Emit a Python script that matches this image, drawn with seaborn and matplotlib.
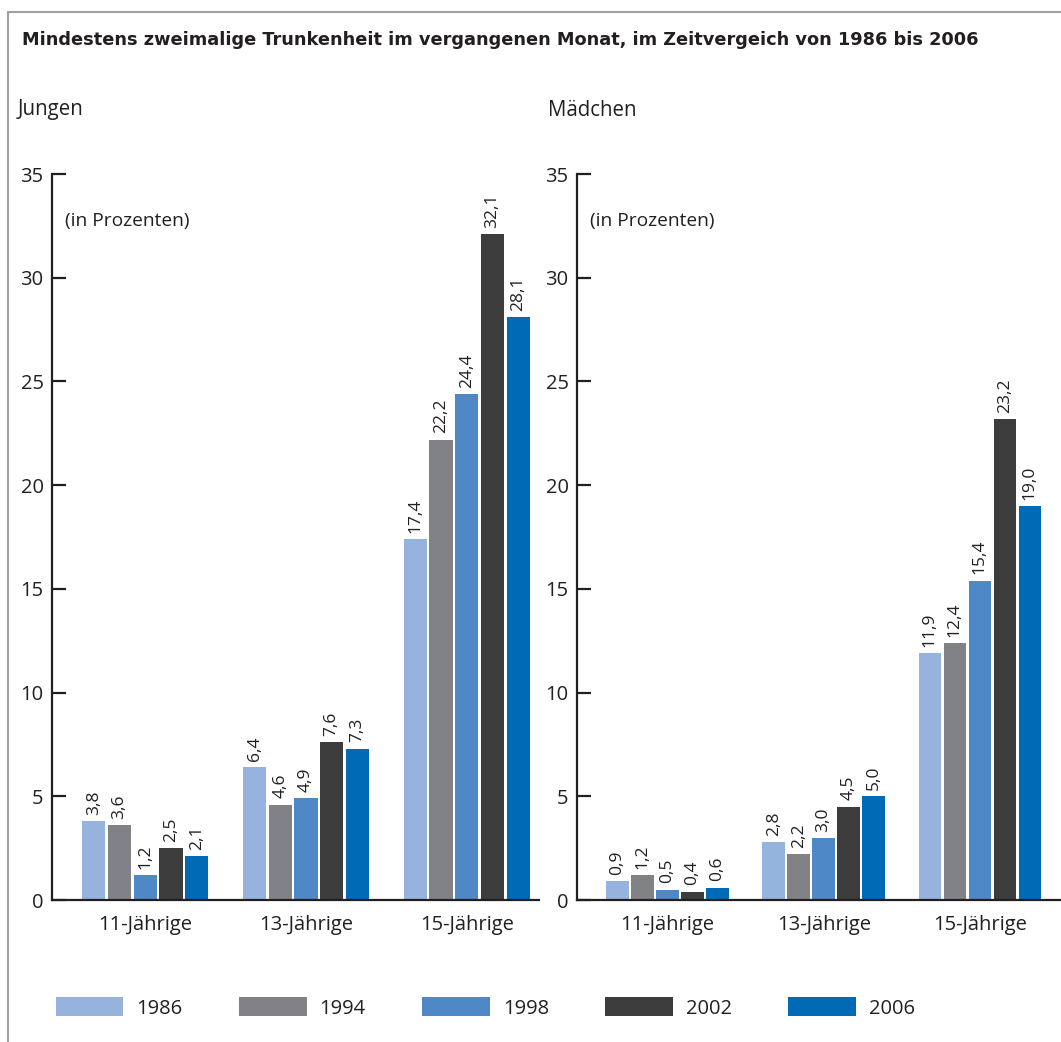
import matplotlib
matplotlib.use("Agg")
import matplotlib.pyplot as plt
import seaborn as sns
import pandas as pd
from matplotlib.patches import Patch
from matplotlib.lines import Line2D

categories = ["11-Jährige", "13-Jährige", "15-Jährige"]
years = ["1986", "1994", "1998", "2002", "2006"]
jungen = {
    "1986": [3.8, 6.4, 17.4],
    "1994": [3.6, 4.6, 22.2],
    "1998": [1.2, 4.9, 24.4],
    "2002": [2.5, 7.6, 32.1],
    "2006": [2.1, 7.3, 28.1],
}
maedchen = {
    "1986": [0.9, 2.8, 11.9],
    "1994": [1.2, 2.2, 12.4],
    "1998": [0.5, 3.0, 15.4],
    "2002": [0.4, 4.5, 23.2],
    "2006": [0.6, 5.0, 19.0],
}
colors = ["#95B3DC", "#808285", "#4F88C6", "#3C3C3C", "#006AB7"]
yticks = [0, 5, 10, 15, 20, 25, 30, 35]

sns.set_theme(style="white")
plt.rcParams["font.family"] = ["Open Sans", "DejaVu Sans"]
TXT = "#231F20"

W, H = 1061, 1042
fig = plt.figure(figsize=(W / 100, H / 100), dpi=100)


def long_df(d):
    rows = []
    for y in years:
        for c, v in zip(categories, d[y]):
            rows.append({"Alter": c, "Jahr": y, "Wert": v})
    return pd.DataFrame(rows)


def draw(ax, d, xright):
    df = long_df(d)
    sns.barplot(data=df, x="Alter", y="Wert", hue="Jahr", hue_order=years,
                order=categories, palette=colors, saturation=1, width=0.8,
                gap=0.1, linewidth=0, ax=ax, legend=False, errorbar=None)
    for cont in ax.containers:
        labels = [f"{b.get_height():.1f}".replace(".", ",") for b in cont]
        ax.bar_label(cont, labels=labels, rotation=90, padding=4.5,
                     fontsize=12.5, color=TXT)
    ax.set_ylim(0, 35)
    ax.set_xlim(-0.58, xright)
    ax.set_yticks(yticks)
    ax.set_xlabel("")
    ax.set_ylabel("")
    for s in ["top", "right"]:
        ax.spines[s].set_visible(False)
    for s in ["left", "bottom"]:
        ax.spines[s].set_color(TXT)
        ax.spines[s].set_linewidth(1.6)
    ax.tick_params(axis="y", direction="in", length=10, width=1.6,
                   color=TXT, labelsize=14.5, labelcolor=TXT, pad=6, left=True)
    ax.tick_params(axis="x", length=0, labelsize=14.5, labelcolor=TXT, pad=11)
    ax.text(13 / 487, 0.935, "(in Prozenten)", transform=ax.transAxes,
            fontsize=13.8, color=TXT, va="center", ha="left")
    ax.patch.set_alpha(0)


bottom = 142 / H
height = 726 / H
ax1 = fig.add_axes([52 / W, bottom, 487 / W, height])
ax2 = fig.add_axes([577 / W, bottom, 484 / W, height])
draw(ax1, jungen, 2.45)
draw(ax2, maedchen, 2.52)

fig.text(22 / W, 1 - 40 / H,
         "Mindestens zweimalige Trunkenheit im vergangenen Monat, im Zeitvergeich von 1986 bis 2006",
         fontsize=12.8, fontweight="bold", color=TXT, va="center", ha="left",
         family=["DejaVu Sans"])
fig.text(18 / W, 1 - 110 / H, "Jungen", fontsize=14.8, color=TXT, va="center")
fig.text(548 / W, 1 - 110 / H, "Mädchen", fontsize=14.8, color=TXT, va="center")

# frame lines
fig.add_artist(Line2D([8 / W, 8 / W], [0, 1 - 12 / H], transform=fig.transFigure,
                      color="#A0A0A0", lw=1.5))
fig.add_artist(Line2D([8 / W, 1], [1 - 12 / H, 1 - 12 / H], transform=fig.transFigure,
                      color="#A0A0A0", lw=1.5))

handles = [Patch(facecolor=c, edgecolor="none", label=y) for c, y in zip(colors, years)]
fig.legend(handles=handles, loc="center left", bbox_to_anchor=(56 / W, 34 / H),
           ncol=5, frameon=False, fontsize=14.5, labelcolor=TXT,
           handlelength=3.35, handleheight=1.05, handletextpad=0.65,
           columnspacing=2.8, borderpad=0, borderaxespad=0)

fig.savefig("out.png", dpi=100)
